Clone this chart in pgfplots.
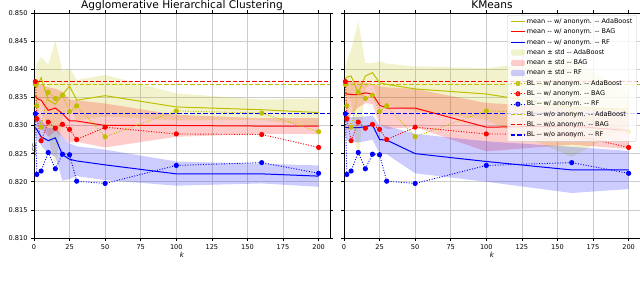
\documentclass[border=0pt]{standalone}
\usepackage{pgfplots}
\pgfplotsset{compat=1.18}
\usepackage{pgfplotstable}
\usepgfplotslibrary{fillbetween}
\usepackage{fontspec}
\setmainfont{DejaVu Sans}
\definecolor{my}{rgb}{0.75,0.75,0}
\definecolor{mr}{rgb}{1,0,0}
\definecolor{mb}{rgb}{0,0,1}

\pgfplotstableread{
k m u l
1 0.8368 0.8394 0.8342
2 0.8368 0.8410 0.8326
5 0.8385 0.8422 0.8348
10 0.8345 0.8408 0.8282
15 0.8338 0.8451 0.8225
20 0.8355 0.8396 0.8314
25 0.8370 0.8402 0.8338
30 0.8345 0.8381 0.8309
50 0.8353 0.8390 0.8316
100 0.8333 0.8357 0.8309
160 0.8328 0.8346 0.8310
200 0.8323 0.8348 0.8298
}\ahcY
\pgfplotstableread{
k m u l
1 0.8353 0.8377 0.8310
2 0.8348 0.8376 0.8305
5 0.8345 0.8373 0.8295
10 0.8327 0.8368 0.8280
15 0.8331 0.8365 0.8290
20 0.8321 0.8360 0.8280
25 0.8308 0.8346 0.8270
30 0.8308 0.8345 0.8271
50 0.8300 0.8339 0.8261
100 0.8300 0.8319 0.8280
160 0.8299 0.8313 0.8285
200 0.8299 0.8313 0.8285
}\ahcR
\pgfplotstableread{
k m u l
1 0.8296 0.8315 0.8277
2 0.8293 0.8312 0.8276
5 0.8280 0.8310 0.8265
10 0.8273 0.8295 0.8249
15 0.8278 0.8297 0.8245
20 0.8248 0.8280 0.8202
25 0.8240 0.8268 0.8205
30 0.8237 0.8263 0.8210
50 0.8230 0.8257 0.8203
100 0.8214 0.8236 0.8193
160 0.8214 0.8232 0.8197
200 0.8210 0.8229 0.8191
}\ahcB
\pgfplotstableread{
k m u l
1 0.8383 0.8405 0.8361
2 0.8386 0.8415 0.8357
5 0.8388 0.8435 0.8341
10 0.8358 0.8485 0.8231
15 0.8388 0.8411 0.8365
20 0.8394 0.8411 0.8377
25 0.8376 0.8414 0.8338
30 0.8373 0.8410 0.8336
50 0.8365 0.8405 0.8325
100 0.8356 0.8402 0.8310
160 0.8332 0.8420 0.8244
200 0.8329 0.8358 0.8300
}\kmY
\pgfplotstableread{
k m u l
1 0.8357 0.8378 0.8336
2 0.8356 0.8378 0.8300
5 0.8355 0.8377 0.8320
10 0.8355 0.8378 0.8332
15 0.8358 0.8376 0.8340
20 0.8356 0.8374 0.8338
25 0.8336 0.8370 0.8302
30 0.8331 0.8368 0.8294
50 0.8331 0.8365 0.8297
100 0.8297 0.8340 0.8254
160 0.8299 0.8332 0.8266
200 0.8291 0.8327 0.8258
}\kmR
\pgfplotstableread{
k m u l
1 0.8296 0.8312 0.8280
2 0.8296 0.8314 0.8275
5 0.8296 0.8315 0.8272
10 0.8296 0.8315 0.8270
15 0.8298 0.8316 0.8272
20 0.8301 0.8318 0.8275
25 0.8275 0.8300 0.8250
30 0.8274 0.8299 0.8249
50 0.8250 0.8285 0.8215
100 0.8236 0.8272 0.8200
160 0.8221 0.8262 0.8180
200 0.8221 0.8255 0.8187
}\kmB
\pgfplotstableread{
k Y R B
1 0.8373 0.8378 0.8321
2 0.8335 0.8312 0.8213
5 0.8297 0.8273 0.8219
10 0.8359 0.8306 0.8252
15 0.8348 0.8295 0.8223
20 0.8354 0.8302 0.8249
25 0.8325 0.8293 0.8248
30 0.8335 0.8275 0.8201
50 0.8280 0.8297 0.8197
100 0.8326 0.8285 0.8229
160 0.8322 0.8284 0.8234
200 0.8289 0.8261 0.8215
}\blw
\pgfplotstableread{
k Y R B
0 0.8373 0.8378 0.8321
208 0.8373 0.8378 0.8321
}\blwo

\pgfplotsset{
 shortline/.style={legend image code/.code={\draw[mark repeat=2,mark phase=2,##1] plot coordinates {(0pt,0pt)(7pt,0pt)(14pt,0pt)};}},
 shortarea/.style={legend image code/.code={\fill[##1, draw=none] (0pt,-3pt) rectangle (14pt,3pt);}},
 meanline/.style={line width=1pt, forget plot},
 blwstyle/.style={line width=0.9pt, dash pattern=on 1pt off 1.6pt, mark=*, mark size=2.1pt, mark options={solid}, forget plot},
 myaxis/.style={
  scale only axis, width=296pt, height=225pt,
  xmin=0, xmax=208, ymin=0.810, ymax=0.850,
  xtick={0,25,50,75,100,125,150,175,200},
  ytick={0.810,0.815,0.820,0.825,0.830,0.835,0.840,0.845,0.850},
  grid=major, grid style={gray!40, line width=0.6pt},
  tick align=outside, major tick length=3pt,
  tick style={black, line width=0.5pt},
  axis line style={line width=0.7pt},
  ticklabel style={font=\fontsize{6.6}{7}\selectfont},
  /pgf/number format/assume math mode=true,
  y tick label style={/pgf/number format/.cd, fixed, fixed zerofill, precision=3},
  xlabel={\textit{k}},
  xlabel style={font=\fontsize{7}{8}\selectfont, at={(axis description cs:0.5,0)}, anchor=center, yshift=-17pt},
  every axis title shift=0pt,
  title style={font=\fontsize{10.6}{12}\selectfont, inner sep=0pt, at={(axis description cs:0.5,1)}, anchor=base, yshift=4.5pt},
 },
}
\newcommand{\band}[3]{%
 \addplot[name path=#3u, draw=none, forget plot] table[x=k,y=u]{#1};
 \addplot[name path=#3l, draw=none, forget plot] table[x=k,y=l]{#1};
 \addplot[fill=#2, fill opacity=0.2, draw=none, forget plot] fill between[of=#3u and #3l];
}
\newcommand{\allplots}[4]{%
 \band{#1}{my}{#4y}
 \band{#2}{mr}{#4r}
 \band{#3}{mb}{#4b}
 \addplot[my, meanline] table[x=k,y=m]{#1};
 \addplot[mr, meanline] table[x=k,y=m]{#2};
 \addplot[mb, meanline] table[x=k,y=m]{#3};
 \addplot[my, blwstyle] table[x=k,y=Y]{\blw};
 \addplot[mr, blwstyle] table[x=k,y=R]{\blw};
 \addplot[mb, blwstyle] table[x=k,y=B]{\blw};
 \addplot[color=my, solid, line width=1.3pt, dash pattern=on 4.5pt off 2pt, forget plot] table[x=k,y=Y]{\blwo};
 \addplot[color=mr, solid, line width=1.3pt, dash pattern=on 4.5pt off 2pt, dash phase=3pt, forget plot] table[x=k,y=R]{\blwo};
 \addplot[color=mb, solid, line width=1.3pt, dash pattern=on 4.5pt off 2pt, forget plot] table[x=k,y=B]{\blwo};
}

\begin{document}
\begin{tikzpicture}
\begin{axis}[myaxis, at={(34pt,43pt)}, anchor=south west,
  title={Agglomerative Hierarchical Clustering},
  ylabel={ACC},
  ylabel style={font=\fontsize{5.5}{6}\selectfont, at={(axis description cs:0,0.5)}, anchor=center, xshift=-24pt},
]
\allplots{\ahcY}{\ahcR}{\ahcB}{a}
\end{axis}
\begin{axis}[myaxis, at={(344pt,43pt)}, anchor=south west,
  title={KMeans}, yticklabels={},
  legend style={at={(axis description cs:0.989,0.991)}, anchor=north east,
    font=\fontsize{6.5}{7}\selectfont, fill=white, fill opacity=0.8, text opacity=1,
    draw=gray!40, rounded corners=2pt, row sep=1.4pt,
    nodes={inner sep=1.2pt, text height=5pt, text depth=1.5pt},
    legend cell align=left},
]
\addlegendimage{shortline, color=my, line width=1pt}
\addlegendentry{mean -{}- w/ anonym. -{}- AdaBoost}
\addlegendimage{shortline, color=mr, line width=1pt}
\addlegendentry{mean -{}- w/ anonym. -{}- BAG}
\addlegendimage{shortline, color=mb, line width=1pt}
\addlegendentry{mean -{}- w/ anonym. -{}- RF}
\addlegendimage{shortarea, fill=my, fill opacity=0.2}
\addlegendentry{mean ± std -{}- AdaBoost}
\addlegendimage{shortarea, fill=mr, fill opacity=0.2}
\addlegendentry{mean ± std -{}- BAG}
\addlegendimage{shortarea, fill=mb, fill opacity=0.2}
\addlegendentry{mean ± std -{}- RF}
\addlegendimage{shortline, color=my, line width=0.9pt, dash pattern=on 1pt off 1.6pt, mark=*, mark size=2.1pt, mark options={solid}}
\addlegendentry{BL -{}- w/ anonym. -{}- AdaBoost}
\addlegendimage{shortline, color=mr, line width=0.9pt, dash pattern=on 1pt off 1.6pt, mark=*, mark size=2.1pt, mark options={solid}}
\addlegendentry{BL -{}- w/ anonym. -{}- BAG}
\addlegendimage{shortline, color=mb, line width=0.9pt, dash pattern=on 1pt off 1.6pt, mark=*, mark size=2.1pt, mark options={solid}}
\addlegendentry{BL -{}- w/ anonym. -{}- RF}
\addlegendimage{shortline, color=my, line width=1.3pt, dash pattern=on 4.5pt off 2pt}
\addlegendentry{BL -{}- w/o anonym. -{}- AdaBoost}
\addlegendimage{shortline, color=mr, line width=1.3pt, dash pattern=on 4.5pt off 2pt}
\addlegendentry{BL -{}- w/o anonym. -{}- BAG}
\addlegendimage{shortline, color=mb, line width=1.3pt, dash pattern=on 4.5pt off 2pt}
\addlegendentry{BL -{}- w/o anonym. -{}- RF}
\allplots{\kmY}{\kmR}{\kmB}{k}
\end{axis}
\pgfresetboundingbox
\path[use as bounding box] (0pt,0pt) rectangle (640pt,281pt);
\end{tikzpicture}
\end{document}
